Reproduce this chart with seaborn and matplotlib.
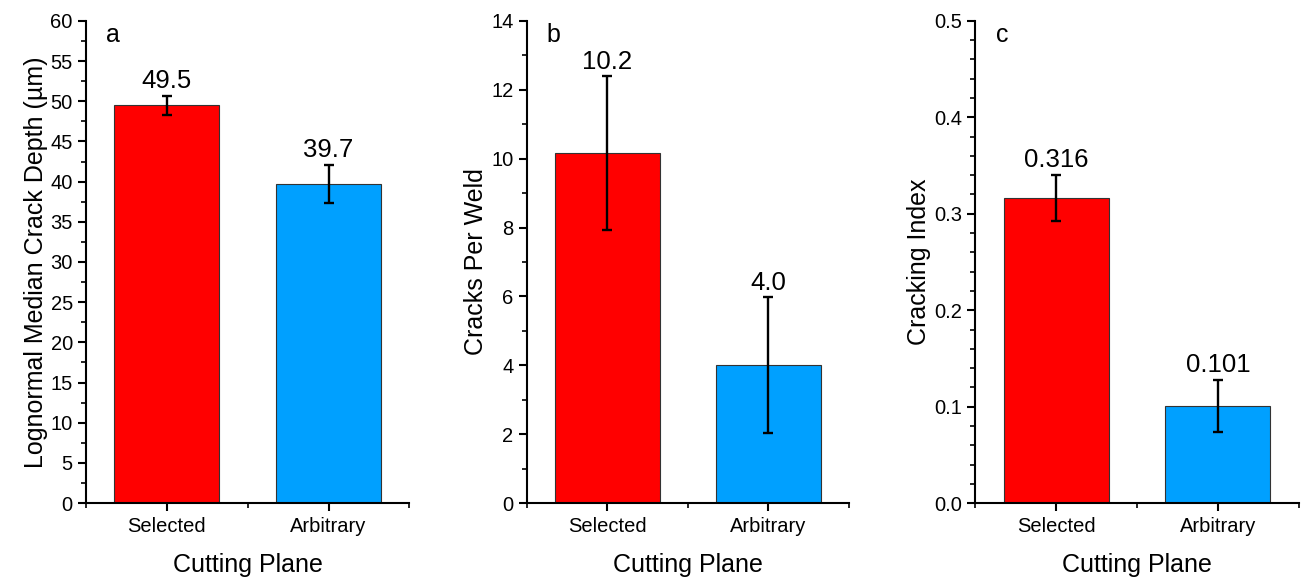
import numpy as np
import pandas as pd
import seaborn as sns
import matplotlib.pyplot as plt
from matplotlib.ticker import MultipleLocator, FixedLocator

planes = ["Selected", "Arbitrary"]
bar_colors = ["#FF0000", "#00A0FF"]

depth = [49.5, 39.7]
depth_err = [1.17, 2.4]
depth_text = ["49.5", "39.7"]

cracks = [10.16, 4.0]
cracks_err = [2.23, 1.97]
cracks_text = ["10.2", "4.0"]

index = [0.316, 0.101]
index_err = [0.024, 0.027]
index_text = ["0.316", "0.101"]

sns.set_style("ticks")
plt.rcParams['font.family'] = ['Liberation Sans', 'DejaVu Sans']
plt.rcParams['axes.linewidth'] = 1.5
for key in ['text.color', 'axes.labelcolor', 'xtick.color', 'ytick.color',
            'axes.edgecolor', 'xtick.labelcolor', 'ytick.labelcolor']:
    plt.rcParams[key] = 'black'

fig = plt.figure(figsize=(13.04, 5.79), dpi=100)

# axes rectangles (figure fractions)
bottom, height = 0.131, 0.833
panels = [
    ("a", depth, depth_err, depth_text, "Lognormal Median Crack Depth (µm)",
     (0, 60), 5, 2.5, None, [0.066, bottom, 0.248, height]),
    ("b", cracks, cracks_err, cracks_text, "Cracks Per Weld",
     (0, 14), 2, 1, None, [0.404, bottom, 0.247, height]),
    ("c", index, index_err, index_text, "Cracking Index",
     (0, 0.5), 0.1, 0.02, "%.1f", [0.748, bottom, 0.248, height]),
]

for letter, vals, errs, texts, ylabel, ylim, major, minor, fmt, rect in panels:
    ax = fig.add_axes(rect)
    df = pd.DataFrame({"Plane": planes, "Value": vals})
    sns.barplot(data=df, x="Plane", y="Value", hue="Plane", palette=bar_colors,
                saturation=1, width=0.65, edgecolor="#333333", linewidth=0.8,
                legend=False, ax=ax)
    ax.errorbar([0, 1], vals, yerr=errs, fmt="none", ecolor="black",
                elinewidth=1.7, capsize=3.8, capthick=1.7, zorder=5)
    for i, (v, e, t) in enumerate(zip(vals, errs, texts)):
        ax.annotate(t, xy=(i, v + e), xytext=(0, 2), textcoords="offset points",
                    ha="center", va="bottom", fontsize=18.5)
    ax.set_xlim(-0.5, 1.5)
    ax.set_ylim(*ylim)
    ax.yaxis.set_major_locator(MultipleLocator(major))
    ax.yaxis.set_minor_locator(MultipleLocator(minor))
    ax.xaxis.set_minor_locator(FixedLocator([-0.5, 0.5, 1.5]))
    if fmt:
        ax.yaxis.set_major_formatter(plt.FormatStrFormatter(fmt))
    ax.tick_params(axis="both", which="major", direction="out", length=6, width=1.5,
                   labelsize=14.5, color="black")
    ax.tick_params(axis="both", which="minor", direction="out", length=3.5, width=1.2,
                   color="black")
    ax.tick_params(axis="x", which="major", pad=4)
    sns.despine(ax=ax)
    ax.set_xlabel("Cutting Plane", fontsize=18, labelpad=12)
    ax.set_ylabel(ylabel, fontsize=18, labelpad=2)
    ax.text(0.084, 0.971, letter, transform=ax.transAxes, fontsize=18,
            ha="center", va="center")

fig.savefig("out.png", dpi=100)
